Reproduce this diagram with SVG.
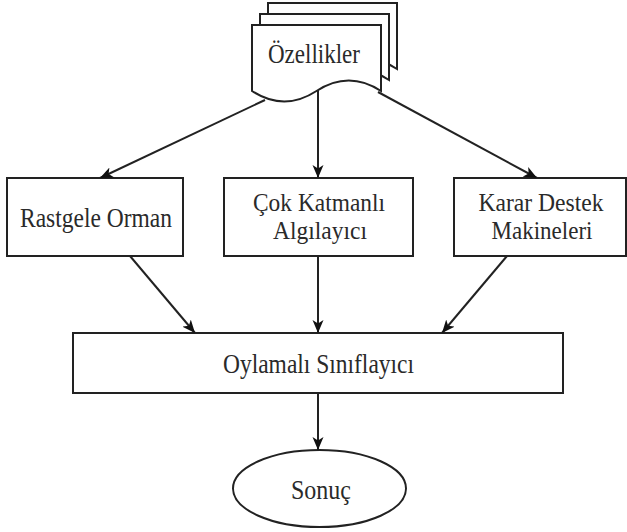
<svg xmlns="http://www.w3.org/2000/svg" width="627" height="532" viewBox="0 0 627 532">
<defs>
<marker id="arr" markerUnits="userSpaceOnUse" markerWidth="14" markerHeight="12" viewBox="0 0 14 12" refX="13" refY="6" orient="auto">
<path d="M0,0.5 L13,6 L0,11.5 L3.5,6 Z" fill="#111"/>
</marker>
<style>
.shape{fill:#fff;stroke:#222;stroke-width:2}
.lbl{font-family:'Liberation Serif','Times New Roman',serif;font-size:27px;fill:#2a2a2a;text-anchor:middle}
.sm{font-size:24.5px}
.edge{stroke:#222;stroke-width:2;fill:none;marker-end:url(#arr)}
</style>
</defs>
<rect width="627" height="532" fill="#fff"/>
<g id="ozellikler">
<path class="shape" d="M268,3 H397 V69 Q364.75,48 332.5,69 Q300.25,90 268,69 Z"/>
<path class="shape" d="M260,14 H389 V80 Q356.75,59 324.5,80 Q292.25,101 260,80 Z"/>
<path class="shape" d="M252,25 H381 V91 Q348.75,70 316.5,91 Q284.25,112 252,91 Z"/>
<text class="lbl" x="314" y="63" textLength="92" lengthAdjust="spacingAndGlyphs">Özellikler</text>
</g>
<g id="rastgele">
<rect class="shape" x="7" y="178" width="176" height="78"/>
<text class="lbl" x="96" y="227" textLength="152" lengthAdjust="spacingAndGlyphs">Rastgele Orman</text>
</g>
<g id="cok">
<rect class="shape" x="224" y="178" width="189" height="78"/>
<text class="lbl sm" x="319" y="211" textLength="132" lengthAdjust="spacingAndGlyphs">Çok Katmanlı</text>
<text class="lbl sm" x="320" y="239" textLength="94" lengthAdjust="spacingAndGlyphs">Algılayıcı</text>
</g>
<g id="karar">
<rect class="shape" x="454" y="178" width="172" height="78"/>
<text class="lbl sm" x="541" y="211" textLength="125" lengthAdjust="spacingAndGlyphs">Karar Destek</text>
<text class="lbl sm" x="542" y="239" textLength="101" lengthAdjust="spacingAndGlyphs">Makineleri</text>
</g>
<g id="oylamali">
<rect class="shape" x="73" y="333" width="490" height="60"/>
<text class="lbl" x="318.5" y="373" textLength="191" lengthAdjust="spacingAndGlyphs">Oylamalı Sınıflayıcı</text>
</g>
<g id="sonuc">
<ellipse class="shape" cx="319.5" cy="488.5" rx="86.5" ry="38.5"/>
<text class="lbl" x="321" y="499" textLength="60" lengthAdjust="spacingAndGlyphs">Sonuç</text>
</g>
<g id="connectors">
<line class="edge" x1="265" y1="100" x2="100" y2="178"/>
<line class="edge" x1="318" y1="90" x2="318" y2="178"/>
<line class="edge" x1="378" y1="92" x2="537" y2="178"/>
<line class="edge" x1="130" y1="256" x2="195" y2="333"/>
<line class="edge" x1="318" y1="256" x2="318" y2="333"/>
<line class="edge" x1="507" y1="256" x2="442" y2="333"/>
<line class="edge" x1="318" y1="393" x2="318" y2="450"/>
</g>
</svg>
